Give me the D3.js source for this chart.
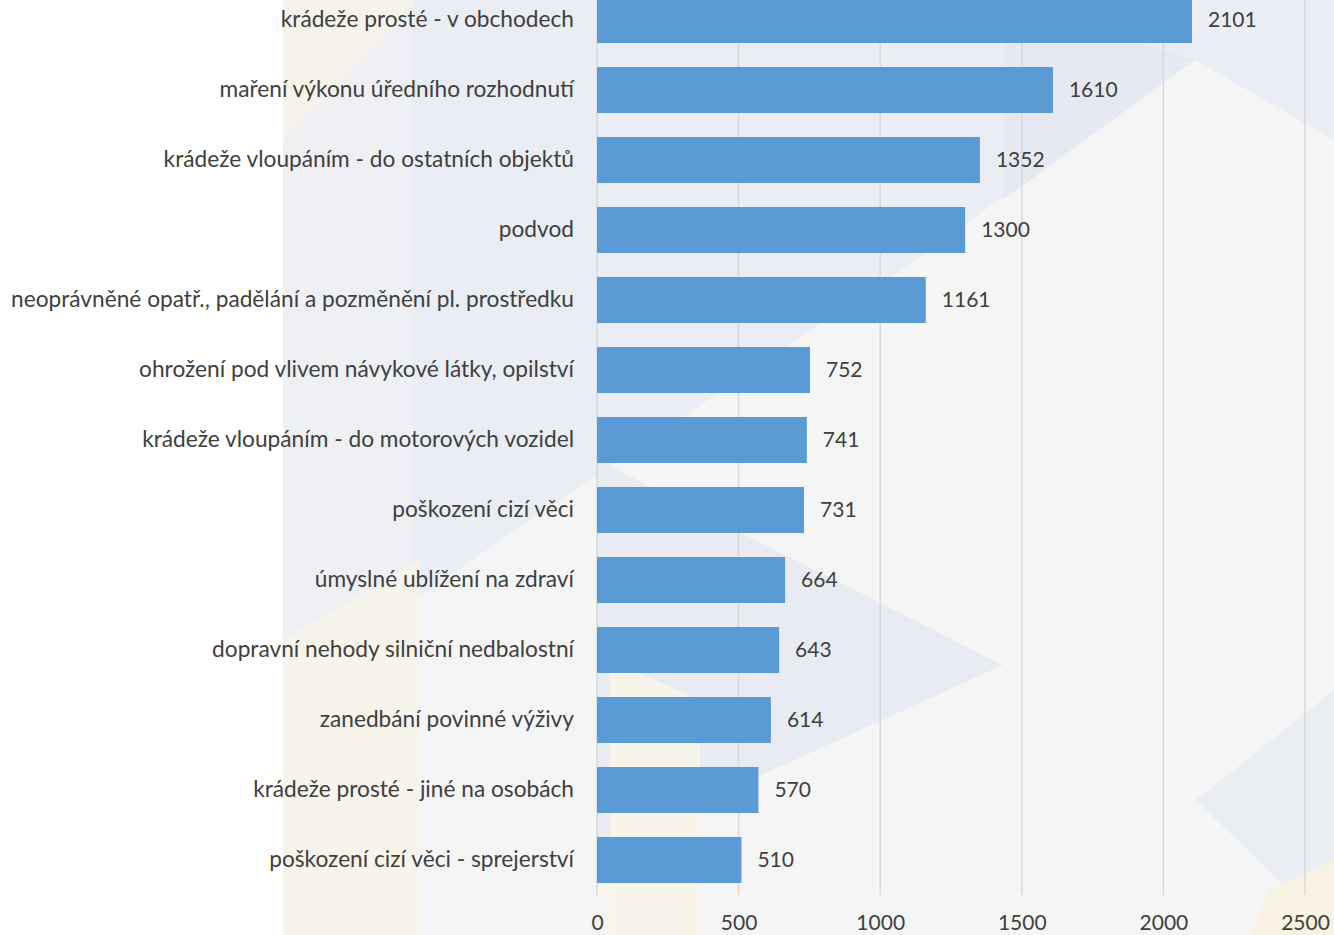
<!DOCTYPE html>
<html>
<head>
<meta charset="utf-8">
<script src="https://cdn.jsdelivr.net/npm/d3@7"></script>
<style>
  body { margin: 0; background: #fff; }
  svg { display: block; }
</style>
</head>
<body>
<div id="chart"></div>
<script>
// data
var categories = [
  "krádeže prosté - v obchodech",
  "maření výkonu úředního rozhodnutí",
  "krádeže vloupáním - do ostatních objektů",
  "podvod",
  "neoprávněné opatř., padělání a pozměnění pl. prostředku",
  "ohrožení pod vlivem návykové látky, opilství",
  "krádeže vloupáním - do motorových vozidel",
  "poškození cizí věci",
  "úmyslné ublížení na zdraví",
  "dopravní nehody silniční nedbalostní",
  "zanedbání povinné výživy",
  "krádeže prosté - jiné na osobách",
  "poškození cizí věci - sprejerství"
];
var values = [2101, 1610, 1352, 1300, 1161, 752, 741, 731, 664, 643, 614, 570, 510];
var xTicks = [0, 500, 1000, 1500, 2000, 2500];

var width = 1334, height = 935;
var font = "Lato, 'Open Sans', sans-serif";

var svg = d3.select("#chart").append("svg")
  .attr("width", width)
  .attr("height", height);

// decorative background (light triangles)
var bg = svg.append("g");
bg.append("rect").attr("x", 283).attr("y", 0).attr("width", width - 283).attr("height", height).attr("fill", "#f5f5f5");
var shapes = [
  {p: [[283,0],[413,0],[413,935],[283,935]], c: "#eef0f4"},
  {p: [[283,0],[420,0],[283,140]], c: "#f6f3ea"},
  {p: [[413,0],[1334,0],[1334,140],[1195,60],[922,255],[413,600]], c: "#eaedf3"},
  {p: [[597,460],[1003,665],[597,850]], c: "#e8ebf2"},
  {p: [[1003,0],[1195,60],[1003,200]], c: "#e6e9f1"},
  {p: [[1196,800],[1334,690],[1334,935]], c: "#eaedf2"},
  {p: [[283,640],[420,560],[420,935],[283,935]], c: "#f7f4ec"},
  {p: [[610,660],[700,700],[700,935],[610,935]], c: "#f7f4ea"},
  {p: [[1270,890],[1334,860],[1334,935],[1250,935]], c: "#f8f2e2"}
];
bg.selectAll("polygon.deco")
  .data(shapes)
  .join("polygon")
  .attr("class", "deco")
  .attr("points", d => d.p.map(q => q.join(",")).join(" "))
  .attr("fill", d => d.c);

var x = d3.scaleLinear().domain([0, 2500]).range([597, 1305]);
var y = d3.scaleBand().domain(categories).range([-15, 895]).paddingInner(0.343).paddingOuter(0.1715);

// gridlines
svg.append("g")
  .selectAll("line")
  .data(xTicks)
  .join("line")
  .attr("x1", d => x(d)).attr("x2", d => x(d))
  .attr("y1", 0).attr("y2", 895)
  .attr("stroke", "#d9d9d9")
  .attr("stroke-width", 1.5);

// x axis tick labels
var xAxis = d3.axisBottom(x).tickValues(xTicks).tickFormat(d3.format("d")).tickSize(0).tickPadding(0);
var gx = svg.append("g").attr("transform", "translate(0,911)").call(xAxis);
gx.select(".domain").remove();
gx.selectAll("text")
  .attr("font-family", font)
  .attr("font-size", "21px")
  .attr("fill", "#404040")
  .attr("dy", "0.9em");

// bars
svg.append("g")
  .selectAll("rect")
  .data(values)
  .join("rect")
  .attr("x", x(0))
  .attr("y", (d, i) => y(categories[i]))
  .attr("width", d => x(d) - x(0))
  .attr("height", y.bandwidth())
  .attr("fill", "#5b9bd5");

// category labels
var yAxis = d3.axisLeft(y).tickSize(0).tickPadding(23);
var gy = svg.append("g").attr("transform", `translate(${x(0)},0)`).call(yAxis);
gy.select(".domain").remove();
gy.selectAll("text")
  .attr("font-family", font)
  .attr("font-size", "22.7px")
  .attr("fill", "#404040");

// value labels
svg.append("g")
  .selectAll("text")
  .data(values)
  .join("text")
  .attr("x", d => x(d) + 16)
  .attr("y", (d, i) => y(categories[i]) + y.bandwidth() / 2)
  .attr("dy", "0.35em")
  .attr("font-family", font)
  .attr("font-size", "21px")
  .attr("fill", "#404040")
  .text(d => d);
</script>
</body>
</html>
